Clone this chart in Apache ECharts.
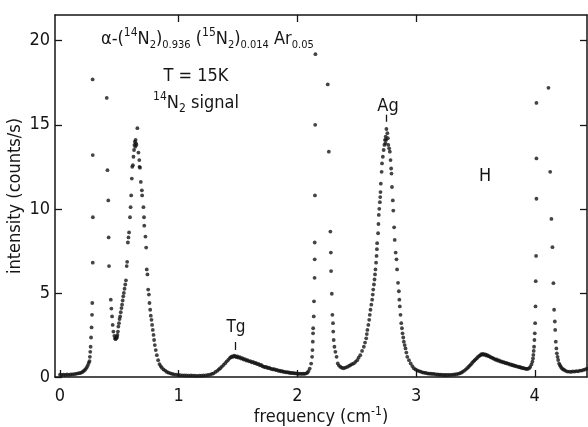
<!DOCTYPE html>
<html>
<head>
<meta charset="UTF-8">
<title>14N2 signal spectrum</title>
<script type="text/javascript" src="https://cdn.jsdelivr.net/npm/echarts@6/dist/echarts.min.js"></script>
<style>
  body{margin:0;background:#fff}
</style>
</head>
<body>
<div id="main" style="width:588px;height:427px"></div>
<script type="text/javascript">
// tick values
var xTicks = [0, 1, 2, 3, 4];
var yTicks = [0, 5, 10, 15, 20];

// points: [frequency (cm-1), intensity (counts/s)]
var lowBase = [[0.0,0.14],[0.015,0.12],[0.03,0.14],[0.045,0.12],[0.06,0.15],[0.075,0.13],[0.09,0.15],[0.105,0.16],[0.12,0.17],[0.135,0.19],[0.15,0.21],[0.165,0.23],[0.178,0.26],[0.19,0.3],[0.2,0.36],[0.21,0.42],[0.219,0.5],[0.228,0.6],[0.236,0.72],[0.243,0.85]];
var sweepUp1 = [[0.249,0.95],[0.252,1.2],[0.255,1.5],[0.258,1.8],[0.262,2.35],[0.266,2.95],[0.27,3.7],[0.272,4.4],[0.276,6.8],[0.277,9.5],[0.276,13.2],[0.275,17.7]];
var sweepDown1 = [[0.394,16.6],[0.4,12.3],[0.407,10.5],[0.41,8.3],[0.413,6.6],[0.428,4.6],[0.433,4.07],[0.439,3.6],[0.444,3.1],[0.45,2.7],[0.458,2.45],[0.464,2.3],[0.468,2.25],[0.472,2.3],[0.476,2.4],[0.48,2.35],[0.484,2.5]];
var peak1Rise = [[0.488,2.7],[0.492,3.0],[0.497,3.2],[0.502,3.45],[0.507,3.6],[0.512,3.85],[0.518,4.1],[0.523,4.3],[0.528,4.55],[0.533,4.8],[0.538,5.0],[0.544,5.25],[0.55,5.5],[0.556,5.75],[0.562,6.6],[0.566,6.85],[0.572,8.0],[0.577,8.3],[0.582,8.6],[0.59,9.5],[0.595,10.1],[0.6,10.8],[0.605,11.8],[0.609,12.5],[0.614,12.6],[0.619,13.1],[0.624,13.5],[0.627,13.8],[0.631,14.0],[0.634,13.7],[0.637,14.1],[0.64,13.9],[0.644,13.8],[0.652,14.8]];
var peak1Fall = [[0.661,13.35],[0.668,12.9],[0.67,12.5],[0.674,12.45],[0.681,11.6],[0.69,11.1],[0.692,10.8],[0.703,10.1],[0.708,9.5],[0.71,9.0],[0.72,8.35],[0.726,7.7],[0.731,6.4],[0.737,6.1],[0.743,5.2],[0.749,4.9],[0.754,4.4],[0.76,4.0],[0.765,3.65],[0.771,3.4],[0.776,3.1],[0.782,2.8],[0.788,2.5],[0.793,2.2],[0.799,1.9],[0.807,1.6],[0.816,1.3],[0.827,1.0],[0.838,0.77],[0.848,0.65],[0.858,0.55],[0.872,0.45],[0.886,0.38],[0.9,0.3],[0.914,0.26],[0.93,0.22],[0.945,0.18],[0.96,0.16],[0.978,0.14],[0.995,0.12]];
var midBase = [[1.012,0.11],[1.03,0.1],[1.048,0.09],[1.066,0.1],[1.084,0.08],[1.102,0.09],[1.12,0.08],[1.138,0.08],[1.156,0.07],[1.174,0.08],[1.192,0.08],[1.21,0.09],[1.228,0.1],[1.246,0.12],[1.264,0.14],[1.28,0.18]];
var tgBand = [[1.294,0.22],[1.31,0.3],[1.325,0.37],[1.338,0.45],[1.35,0.52],[1.364,0.62],[1.378,0.72],[1.392,0.82],[1.405,0.93],[1.418,1.02],[1.43,1.12],[1.44,1.18],[1.449,1.22],[1.458,1.2],[1.467,1.27],[1.477,1.24],[1.486,1.18],[1.495,1.22],[1.505,1.15],[1.515,1.18],[1.525,1.1],[1.536,1.12],[1.547,1.04],[1.558,1.06],[1.57,0.98],[1.58,1.0],[1.592,0.93],[1.603,0.95],[1.615,0.87],[1.626,0.9],[1.638,0.82],[1.65,0.84],[1.66,0.77],[1.672,0.78],[1.684,0.7],[1.695,0.72],[1.706,0.64],[1.716,0.62],[1.727,0.58],[1.738,0.6],[1.75,0.53],[1.761,0.55],[1.772,0.5],[1.784,0.48],[1.795,0.45],[1.806,0.47],[1.818,0.41],[1.829,0.42],[1.84,0.37],[1.852,0.38],[1.862,0.33],[1.873,0.35],[1.884,0.3],[1.896,0.31],[1.908,0.27],[1.92,0.29],[1.93,0.25],[1.94,0.26],[1.952,0.23],[1.964,0.24],[1.976,0.21],[1.988,0.22],[2.0,0.2],[2.012,0.19],[2.025,0.2],[2.038,0.18],[2.05,0.2],[2.062,0.19],[2.074,0.22],[2.085,0.26],[2.094,0.35]];
var sweepUp2 = [[2.104,0.5],[2.116,0.8],[2.124,1.2],[2.127,1.6],[2.13,2.1],[2.132,2.6],[2.133,2.9],[2.138,3.6],[2.14,4.5],[2.145,5.9],[2.146,7.0],[2.146,8.0],[2.148,10.8],[2.15,15.0],[2.152,19.2]];
var sweepDown2 = [[2.256,17.4],[2.265,13.4],[2.278,8.65],[2.282,7.4],[2.284,6.3],[2.29,4.95],[2.295,3.7],[2.3,3.2],[2.302,2.7],[2.306,2.2],[2.312,1.8],[2.32,1.5],[2.33,1.2],[2.34,0.81],[2.35,0.68],[2.363,0.6],[2.375,0.55],[2.39,0.52],[2.405,0.56],[2.42,0.6]];
var agRise = [[2.435,0.66],[2.447,0.71],[2.46,0.76],[2.475,0.81],[2.49,0.9],[2.504,1.0],[2.516,1.15],[2.53,1.3],[2.545,1.55],[2.56,1.8],[2.57,2.05],[2.58,2.3],[2.585,2.55],[2.59,2.8],[2.598,3.1],[2.605,3.4],[2.61,3.7],[2.616,4.0],[2.623,4.3],[2.63,4.6],[2.635,4.9],[2.639,5.2],[2.645,5.5],[2.65,5.8],[2.654,6.1],[2.658,6.4],[2.663,6.8],[2.667,7.2],[2.67,7.6],[2.672,7.96],[2.68,8.55],[2.683,9.1],[2.686,9.64],[2.69,10.0],[2.695,10.4],[2.698,10.7],[2.7,11.0],[2.703,11.5],[2.71,12.2],[2.713,12.7],[2.72,13.1],[2.727,13.5],[2.733,13.8],[2.738,14.1],[2.742,13.9],[2.744,14.3],[2.747,14.1],[2.75,14.75]];
var agFall = [[2.758,14.5],[2.762,14.2],[2.766,13.8],[2.773,13.6],[2.779,13.4],[2.785,12.9],[2.79,12.4],[2.793,12.1],[2.797,11.3],[2.804,10.5],[2.808,9.9],[2.815,8.9],[2.82,8.15],[2.828,7.4],[2.835,7.0],[2.84,6.4],[2.848,5.6],[2.855,5.1],[2.859,4.6],[2.863,4.2],[2.869,3.7],[2.875,3.2],[2.881,2.9],[2.886,2.6],[2.892,2.35],[2.897,2.1],[2.904,1.9],[2.911,1.7],[2.918,1.45],[2.926,1.2],[2.94,1.0],[2.954,0.81],[2.968,0.65],[2.981,0.52],[2.995,0.45],[3.01,0.39],[3.024,0.35],[3.038,0.32],[3.052,0.28],[3.066,0.26],[3.08,0.24],[3.094,0.22],[3.108,0.2],[3.122,0.2],[3.136,0.18],[3.15,0.18],[3.165,0.16],[3.18,0.15],[3.194,0.14],[3.207,0.14],[3.222,0.13],[3.236,0.12],[3.25,0.12],[3.265,0.12],[3.28,0.13],[3.295,0.13],[3.31,0.14],[3.325,0.15],[3.34,0.17],[3.355,0.19],[3.368,0.22],[3.38,0.26]];
var hBand = [[3.392,0.31],[3.404,0.37],[3.418,0.44],[3.43,0.52],[3.442,0.6],[3.452,0.68],[3.462,0.75],[3.472,0.84],[3.482,0.92],[3.492,0.98],[3.502,1.05],[3.512,1.12],[3.522,1.2],[3.532,1.25],[3.542,1.3],[3.55,1.36],[3.558,1.33],[3.566,1.38],[3.575,1.32],[3.584,1.35],[3.592,1.28],[3.6,1.3],[3.61,1.24],[3.62,1.22],[3.63,1.17],[3.64,1.15],[3.65,1.1],[3.66,1.08],[3.67,1.02],[3.68,1.04],[3.69,0.97],[3.7,0.98],[3.71,0.92],[3.72,0.93],[3.73,0.87],[3.74,0.88],[3.75,0.83],[3.76,0.84],[3.77,0.79],[3.78,0.8],[3.79,0.74],[3.8,0.75],[3.81,0.7],[3.82,0.7],[3.83,0.66],[3.84,0.66],[3.85,0.62],[3.86,0.62],[3.87,0.58],[3.88,0.58],[3.89,0.54],[3.9,0.54],[3.91,0.51],[3.92,0.5],[3.93,0.48],[3.94,0.48],[3.952,0.52],[3.962,0.6]];
var sweepUp3 = [[3.972,0.75],[3.98,0.91],[3.985,1.1],[3.988,1.31],[3.991,1.55],[3.994,1.8],[3.997,2.2],[4.0,2.6],[4.003,3.2],[4.006,4.2],[4.008,5.7],[4.011,7.2],[4.014,10.6],[4.014,13.0],[4.014,16.3]];
var sweepDown3 = [[4.115,17.2],[4.13,12.2],[4.14,9.4],[4.149,7.72],[4.157,5.58],[4.163,4.0],[4.169,3.3],[4.172,2.8],[4.177,2.1],[4.182,1.7],[4.186,1.41],[4.192,1.2],[4.197,1.01],[4.205,0.8],[4.212,0.7],[4.219,0.61],[4.228,0.52],[4.238,0.46],[4.248,0.42],[4.26,0.37],[4.275,0.32],[4.29,0.32],[4.305,0.3],[4.32,0.33],[4.335,0.32],[4.35,0.35],[4.365,0.34],[4.38,0.38],[4.395,0.38],[4.41,0.42],[4.425,0.45],[4.44,0.5]];

var allPoints = [].concat(lowBase, sweepUp1, sweepDown1, peak1Rise, peak1Fall, midBase,
    tgBand, sweepUp2, sweepDown2, agRise, agFall, hBand, sweepUp3, sweepDown3);

var ink = '#151515';
var FONT = "'Liberation Sans Narrow', 'DejaVu Sans Condensed', 'Liberation Sans', sans-serif";
var xMin = -0.042, xMax = 4.44, yMin = 0, yMax = 21.53;

var myEcharts = echarts.init(document.getElementById('main'));

var option = {
    animation: false,
    backgroundColor: '#fff',
    grid: { left: 55, right: 1, top: 15, bottom: 50, containLabel: false, outerBoundsMode: 'none' },
    xAxis: [{
        type: 'value', min: xMin, max: xMax, position: 'bottom',
        axisLine: { onZero: false, lineStyle: { color: ink, width: 1.5 } },
        axisTick: { inside: true, length: 7, customValues: xTicks, lineStyle: { color: ink, width: 1.3 } },
        axisLabel: { customValues: xTicks, margin: 10, fontSize: 18, color: ink, fontFamily: FONT },
        splitLine: { show: false },
        name: '{a|frequency (cm}{s|-1}{a|)}',
        nameLocation: 'middle', nameGap: 29, nameMoveOverlap: false,
        nameTextStyle: {
            rich: {
                a: { fontSize: 18, color: ink, fontFamily: FONT, lineHeight: 22 },
                s: { fontSize: 12, color: ink, fontFamily: FONT, verticalAlign: 'top', lineHeight: 14 }
            }
        }
    }, {
        type: 'value', min: xMin, max: xMax, position: 'top',
        axisLine: { onZero: false, lineStyle: { color: ink, width: 1.5 } },
        axisTick: { inside: true, length: 7, customValues: [1, 2, 3], lineStyle: { color: ink, width: 1.3 } },
        axisLabel: { show: false },
        splitLine: { show: false }
    }],
    yAxis: [{
        type: 'value', min: yMin, max: yMax, position: 'left',
        axisLine: { show: true, onZero: false, lineStyle: { color: ink, width: 1.5 } },
        axisTick: { show: true, inside: true, length: 7, customValues: yTicks, lineStyle: { color: ink, width: 1.3 } },
        axisLabel: { customValues: yTicks, margin: 5, fontSize: 18, color: ink, fontFamily: FONT },
        splitLine: { show: false },
        name: 'intensity (counts/s)',
        nameLocation: 'middle', nameGap: 31, nameMoveOverlap: false,
        nameTextStyle: { fontSize: 18, color: ink, fontFamily: FONT }
    }, {
        type: 'value', min: yMin, max: yMax, position: 'right',
        axisLine: { show: true, onZero: false, lineStyle: { color: ink, width: 1.5 } },
        axisTick: { show: true, inside: true, length: 7, customValues: [5, 10, 15, 20], lineStyle: { color: ink, width: 1.3 } },
        axisLabel: { show: false },
        splitLine: { show: false }
    }],
    series: [{
        name: '14N2 signal',
        type: 'scatter',
        xAxisIndex: 0, yAxisIndex: 0,
        symbol: 'circle',
        symbolSize: 3.8,
        itemStyle: { color: ink },
        data: allPoints,
        markLine: {
            silent: true, symbol: 'none', animation: false,
            label: { show: false },
            lineStyle: { color: ink, width: 1.3, type: 'solid' },
            data: [
                [{ coord: [1.477, 2.08] }, { coord: [1.477, 1.61] }],
                [{ coord: [2.751, 15.6] }, { coord: [2.751, 15.18] }]
            ]
        }
    }],
    graphic: [{
        type: 'text', x: 101, y: 39,
        style: {
            text: '{n|α-(}{p|14}{n|N}{b|2}{n|)}{b|0.936}{n| (}{p|15}{n|N}{b|2}{n|)}{b|0.014}{n| Ar}{b|0.05}',
            align: 'left', verticalAlign: 'middle',
            rich: {
                n: { fontSize: 18, fontFamily: FONT, fill: ink, lineHeight: 24 },
                p: { fontSize: 12, fontFamily: FONT, fill: ink, lineHeight: 14, verticalAlign: 'top' },
                b: { fontSize: 11, fontFamily: FONT, fill: ink, lineHeight: 14, verticalAlign: 'bottom' }
            }
        }
    }, {
        type: 'text', x: 196, y: 76,
        style: { text: 'T = 15K', align: 'center', verticalAlign: 'middle', fontSize: 18, fontFamily: FONT, fill: ink }
    }, {
        type: 'text', x: 196, y: 103,
        style: {
            text: '{p|14}{n|N}{b|2}{n| signal}',
            align: 'center', verticalAlign: 'middle',
            rich: {
                n: { fontSize: 18, fontFamily: FONT, fill: ink, lineHeight: 24 },
                p: { fontSize: 12, fontFamily: FONT, fill: ink, lineHeight: 14, verticalAlign: 'top' },
                b: { fontSize: 12, fontFamily: FONT, fill: ink, lineHeight: 14, verticalAlign: 'bottom' }
            }
        }
    }, {
        type: 'text', x: 236, y: 328,
        style: { text: 'Tg', align: 'center', verticalAlign: 'middle', fontSize: 17, fontFamily: FONT, fill: ink }
    }, {
        type: 'text', x: 388, y: 106,
        style: { text: 'Ag', align: 'center', verticalAlign: 'middle', fontSize: 18, fontFamily: FONT, fill: ink }
    }, {
        type: 'text', x: 485, y: 176,
        style: { text: 'H', align: 'center', verticalAlign: 'middle', fontSize: 18, fontFamily: FONT, fill: ink }
    }]
};
myEcharts.setOption(option);
</script>
</body>
</html>
